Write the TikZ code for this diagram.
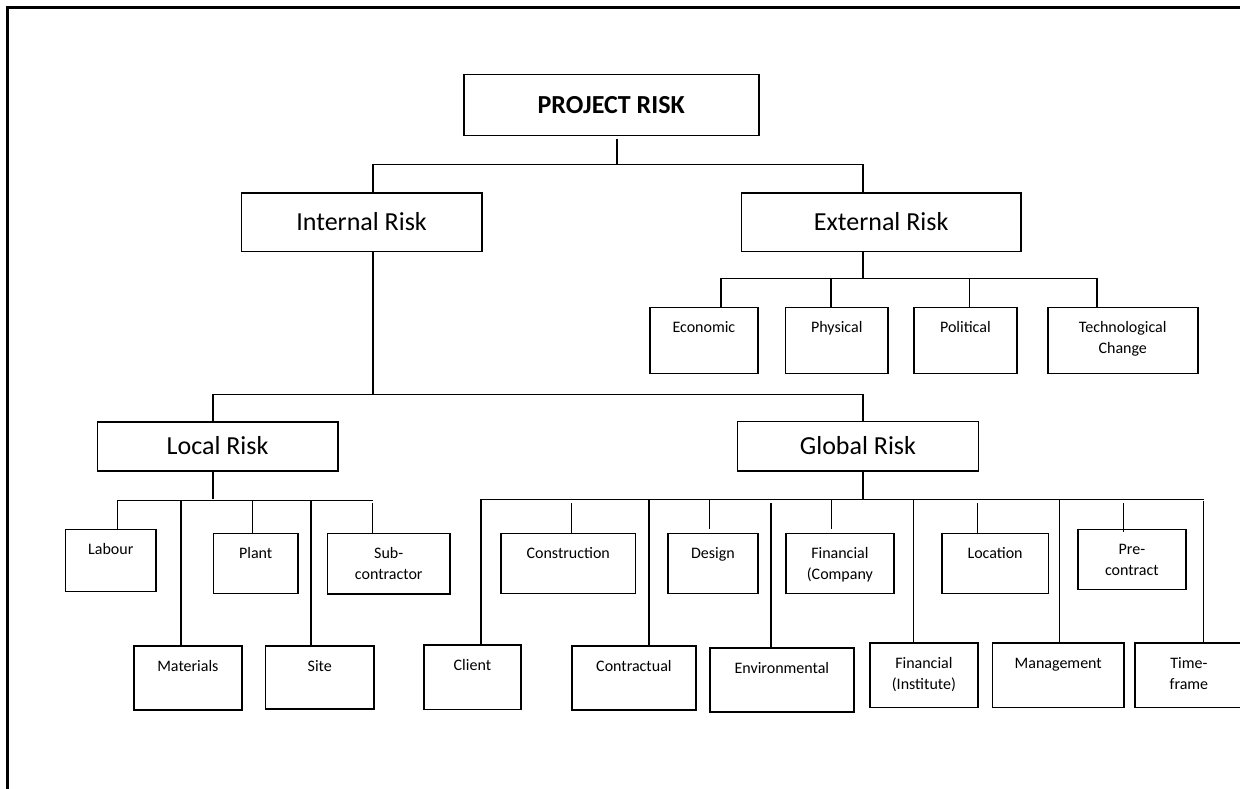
\documentclass[tikz,border=0pt]{standalone}
\usepackage{fontspec}
\setmainfont{Carlito}

% heading box: [extra options]{name}{left}{top}{right}{bottom}{text}
\newcommand\riskhead[7][]{%
  \node[headbox,#1,minimum width={(#5-#3)*1pt},minimum height={(#6-#4)*1pt},
        anchor=north west] (#2) at (#3,#4) {#7};}
% leaf box with its label set near the top: {name}{left}{top}{right}{bottom}{text}
\newcommand\riskleaf[6]{%
  \node[leafbox,minimum width={(#4-#2)*1pt},minimum height={(#5-#3)*1pt},
        anchor=north west] (#1) at (#2,#3) {};
  \node[leaflbl] (#1-t) at ([yshift=-11.3pt]#1.north) {\strut #6};}
% drop line from a bus point down to a box: [line options]{point}{x}{y}{box}
\newcommand\riskdrop[5][]{%
  \coordinate (#2) at (#3,#4);
  \draw[wire,#1] (#2) -- (#2 |- #5.north);}

\begin{document}
\begin{tikzpicture}[x=1pt, y=-1pt,
  pageedge/.style={line width=2.2pt},
  headbox/.style={draw, line width=1.5pt, inner sep=0pt,
    font=\fontsize{26}{31}\selectfont, text height=16.7pt, text depth=0pt},
  leafbox/.style={draw, line width=1.5pt, inner sep=0pt},
  leaflbl/.style={inner sep=0pt, align=center, anchor=north,
    font=\fontsize{16}{21}\selectfont},
  wire/.style={line width=1.5pt, line cap=rect}]

\useasboundingbox (0,0) rectangle (1240,789);

% page edge
\draw[pageedge] (7.5,789) -- (7.5,7.5) -- (1240,7.5);

% headings
\riskhead[font=\fontsize{26}{31}\selectfont\bfseries]{pr}{463}{74}{758}{134.7}{PROJECT RISK}
\riskhead{ir}{240.7}{192.3}{481}{250.7}{Internal Risk}
\riskhead{er}{740.7}{192.3}{1020}{250.7}{External Risk}
\riskhead{lr}{96.7}{421}{337}{470.3}{Local Risk}
\riskhead{gr}{736.7}{420.7}{977.7}{470.3}{Global Risk}

% external risk items
\riskleaf{eco}{649}{306.7}{757.3}{372.7}{Economic}
\riskleaf{phy}{784.7}{306.7}{887.3}{372.7}{Physical}
\riskleaf{pol}{913}{306.7}{1016.3}{372.7}{Political}
\riskleaf{tec}{1047}{306.7}{1197}{372.7}{Technological\\Change}

% local risk items
\riskleaf{lab}{64.7}{528.7}{155.3}{590.7}{Labour}
\riskleaf{mat}{133}{645}{241.3}{709}{Materials}
\riskleaf{pla}{212.7}{532.7}{297.3}{592.7}{Plant}
\riskleaf{sit}{264.7}{645}{373.3}{708}{Site}
\riskleaf{sub}{326.7}{532.7}{449.3}{593}{Sub-\\contractor}

% global risk items
\riskleaf{cli}{423.3}{644.3}{520}{708.7}{Client}
\riskleaf{con}{500.3}{532.7}{634.7}{592.7}{Construction}
\riskleaf{ctr}{571}{645}{695.3}{709}{Contractual}
\riskleaf{des}{667}{532.7}{757.3}{592.7}{Design}
\riskleaf{env}{709}{647.3}{853.3}{711}{Environmental}
\riskleaf{fco}{785}{532.7}{893.3}{592.7}{Financial\\(Company}
\riskleaf{fin}{869}{642.3}{977.3}{706.7}{Financial\\(Institute)}
\riskleaf{loc}{941}{532.7}{1047.7}{592.7}{Location}
\riskleaf{man}{991.7}{642.3}{1123.3}{706.7}{Management}
\riskleaf{pre}{1077}{528.7}{1185.3}{588.7}{Pre-\\contract}
\riskleaf{tim}{1134.3}{642.3}{1242}{706.7}{Time-\\frame}

% project risk -> internal / external
\coordinate (b-pr) at (617,164.3);
\draw[wire, shorten <=4pt] (pr.south -| b-pr) -- (b-pr);
\riskdrop{b-ir}{373}{164.3}{ir}
\riskdrop{b-er}{863}{164.3}{er}
\draw[wire] (b-ir) -- (b-er);

% external risk -> items
\coordinate (x-er) at (863,278.3);
\draw[wire] (er.south -| x-er) -- (x-er);
\riskdrop{t-eco}{721}{278.3}{eco}
\riskdrop{t-phy}{831}{278.3}{phy}
\riskdrop{t-pol}{969.3}{278.3}{pol}
\riskdrop{t-tec}{1097}{278.3}{tec}
\draw[wire] (t-eco) -- (t-tec);

% internal risk -> local / global
\coordinate (m-ir) at (373,394.5);
\draw[wire] (ir.south -| m-ir) -- (m-ir);
\riskdrop{m-lr}{213}{394.5}{lr}
\riskdrop{m-gr}{863}{394.5}{gr}
\draw[wire] (m-lr) -- (m-gr);

% local risk -> items
\coordinate (l-lr) at (213,500.5);
\draw[wire, shorten >=2pt] (lr.south -| l-lr) -- (l-lr);
\riskdrop{t-lab}{117.3}{500.5}{lab}
\riskdrop{t-mat}{181}{500.5}{mat}
\riskdrop{t-pla}{252.7}{500.5}{pla}
\riskdrop{t-sit}{311}{500.5}{sit}
\riskdrop[shorten <=3pt]{t-sub}{372.7}{500.5}{sub}
\draw[wire] (t-lab) -- (t-sub);

% global risk -> items
\coordinate (g-gr) at (863,499.5);
\draw[wire] (gr.south -| g-gr) -- (g-gr);
\riskdrop{t-cli}{481}{499.5}{cli}
\riskdrop[shorten <=4pt]{t-con}{571.3}{499.5}{con}
\riskdrop{t-ctr}{649}{499.5}{ctr}
\riskdrop[shorten >=4pt]{t-des}{709.3}{499.5}{des}
\riskdrop[shorten <=4pt]{t-env}{771}{499.5}{env}
\riskdrop[shorten >=4pt]{t-fco}{831.7}{499.5}{fco}
\riskdrop{t-fin}{913.3}{499.5}{fin}
\riskdrop[shorten <=4pt]{t-loc}{977.3}{499.5}{loc}
\riskdrop{t-man}{1059.3}{499.5}{man}
\riskdrop[shorten <=4pt, shorten >=-3pt]{t-pre}{1123.3}{499.5}{pre}
\riskdrop[shorten <=2pt]{t-tim}{1203.3}{499.5}{tim}
\draw[wire] (t-cli) -- (t-tim);

\end{tikzpicture}
\end{document}
